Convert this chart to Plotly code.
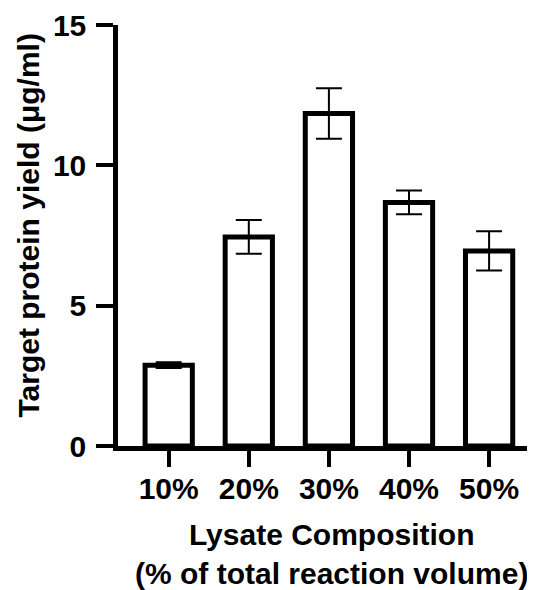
import plotly.graph_objects as go

categories = ["10%", "20%", "30%", "40%", "50%"]
yield_mean = [2.88, 7.45, 11.85, 8.68, 6.95]
yield_err = [0.10, 0.60, 0.90, 0.42, 0.70]
y_ticks = [0, 5, 10, 15]

FONT = "Liberation Sans, Arial, sans-serif"
OFF = 8  # default page body margin in the browser
W, H = 535 - OFF, 590 - OFF
ML, MR, MT, MB = 118 - OFF, 0, 23 - OFF, 144
pw = W - ML - MR
ph = H - MT - MB

xpos = list(range(len(categories)))

fig = go.Figure()
fig.add_trace(go.Bar(
    x=xpos, y=yield_mean, width=0.59,
    marker=dict(color="white", line=dict(color="black", width=5)),
    error_y=dict(type="data", array=yield_err, visible=True,
                 color="black", thickness=2, width=13),
    showlegend=False,
))

# helpers: window pixel -> paper fraction
def px_x(p):
    return (p - OFF - ML) / pw

def px_y(p):
    return (H - MB - (p - OFF)) / ph

fig.update_layout(
    width=W, height=H, autosize=False,
    margin=dict(l=ML, r=MR, t=MT, b=MB, pad=0),
    paper_bgcolor="white", plot_bgcolor="white",
    font=dict(family=FONT, size=30, color="black", weight="bold"),
    xaxis=dict(
        range=[-0.633, 4.573], tickmode="array", tickvals=xpos, ticktext=categories,
        showline=True, linecolor="black", linewidth=4.5,
        ticks="outside", ticklen=16, tickwidth=4, tickcolor="black",
        showgrid=False, zeroline=False, ticklabelstandoff=-4,
        ticklabeloverflow="allow",
        tickfont=dict(family=FONT, size=30, color="black", weight="bold"),
    ),
    yaxis=dict(
        range=[0, 15], tickmode="array", tickvals=y_ticks,
        showline=True, linecolor="black", linewidth=4.5,
        ticks="outside", ticklen=17, tickwidth=4, tickcolor="black",
        showgrid=False, zeroline=False, ticklabelstandoff=4,
        ticklabeloverflow="allow",
        tickfont=dict(family=FONT, size=30, color="black", weight="bold"),
    ),
    annotations=[
        dict(text="Target protein yield (μg/ml)", textangle=-90,
             xref="paper", yref="paper", x=px_x(29), y=px_y(224.5),
             xanchor="center", yanchor="middle", showarrow=False,
             font=dict(family=FONT, size=30, color="black", weight="bold")),
        dict(text="Lysate Composition<br>(% of total reaction volume)",
             xref="paper", yref="paper", x=px_x(331), y=px_y(555),
             xanchor="center", yanchor="middle", showarrow=False,
             font=dict(family=FONT, size=30, color="black", weight="bold")),
    ],
)

fig.write_html("out.html")
